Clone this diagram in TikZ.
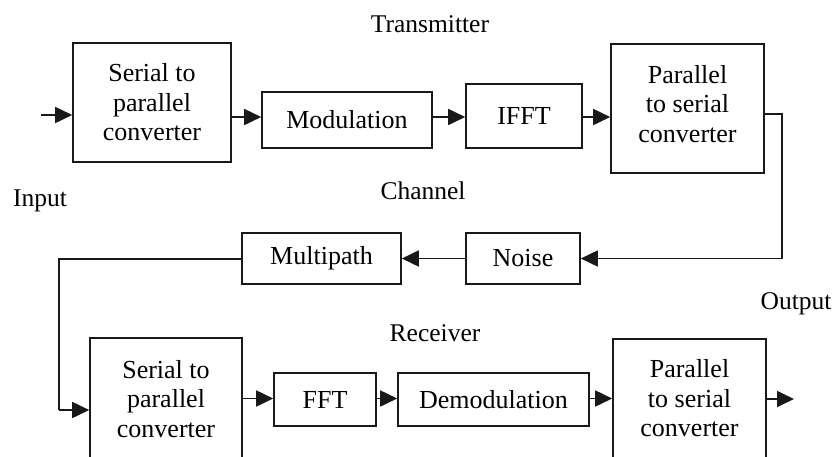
\documentclass[tikz,border=0pt]{standalone}
\usepackage{fontspec}
\setmainfont{Liberation Serif}
\usetikzlibrary{arrows.meta}
\begin{document}
\begin{tikzpicture}[x=1pt,y=-1pt,
  blk/.style={draw=black!90, line width=1.6pt, align=center, inner sep=0pt,
    font=\fontsize{26}{29.5}\selectfont},
  lbl/.style={font=\fontsize{25.5}{29}\selectfont, inner sep=0pt},
  wire/.style={draw=black!90, line width=1.7pt},
  arr/.style={wire, -{Triangle[length=17pt,width=16pt]}}]
\path[use as bounding box, clip] (0,0) rectangle (836,456);
% transmitter
\node[blk, minimum width=158pt, minimum height=119pt] (ts2p) at (152,102.5) {Serial to\\parallel\\converter};
\node[blk, minimum width=170pt, minimum height=56pt] (mod) at (347,120) {Modulation};
\node[blk, minimum width=116pt, minimum height=64pt] (ifft) at (524,116) {IFFT};
\node[blk, minimum width=153pt, minimum height=129pt, text depth=10pt] (tp2s) at (687.5,108.5) {Parallel\\to serial\\converter};
% channel
\node[blk, minimum width=114pt, minimum height=51pt] (noise) at (523,258.5) {Noise};
\node[blk, minimum width=159pt, minimum height=51pt] (multi) at (321.5,258.5) {Multipath};
% receiver
\node[blk, minimum width=152pt, minimum height=122pt] (rs2p) at (166,399) {Serial to\\parallel\\converter};
\node[blk, minimum width=102pt, minimum height=53pt] (fft) at (325,399.5) {FFT};
\node[blk, minimum width=191pt, minimum height=53pt] (demod) at (493.5,399.5) {Demodulation};
\node[blk, minimum width=153pt, minimum height=122pt, text depth=4pt] (rp2s) at (689.5,400) {Parallel\\to serial\\converter};
% labels
\node[lbl] (ltx) at (430,24) {Transmitter};
\node[lbl] (lch) at (423,191) {Channel};
\node[lbl] (lin) at (40,201) {Input};
\node[lbl] (lout) at (796,304) {Output};
\node[lbl] (lrx) at (435,333) {Receiver};
% coordinates
\coordinate (in) at (41,115);
\coordinate (c1) at (782,114);
\coordinate (c2) at (782,258.5);
\coordinate (c3) at (59,259);
\coordinate (c4) at (59,410);
\coordinate (out) at (794,399);
% connectors
\draw[arr] (in) -- (in -| ts2p.west);
\draw[arr] (ts2p.east |- 0,117) -- (mod.west |- 0,117);
\draw[arr] (mod.east |- 0,117) -- (ifft.west |- 0,117);
\draw[arr] (ifft.east |- 0,117) -- (tp2s.west |- 0,117);
\draw[wire] (tp2s.east |- c1) -- (c1) -- (c2);
\draw[arr] (c2) -- (noise.east);
\draw[arr] (noise.west) -- (multi.east);
\draw[wire] (multi.west |- c3) -- (c3) -- (c4);
\draw[arr] (c4) -- (c4 -| rs2p.west);
\draw[arr] (rs2p.east |- 0,398.5) -- (fft.west |- 0,398.5);
\draw[arr] (fft.east |- 0,398.5) -- (demod.west |- 0,398.5);
\draw[arr] (demod.east |- 0,398.5) -- (rp2s.west |- 0,398.5);
\draw[arr] (rp2s.east |- out) -- (out);
\end{tikzpicture}
\end{document}
